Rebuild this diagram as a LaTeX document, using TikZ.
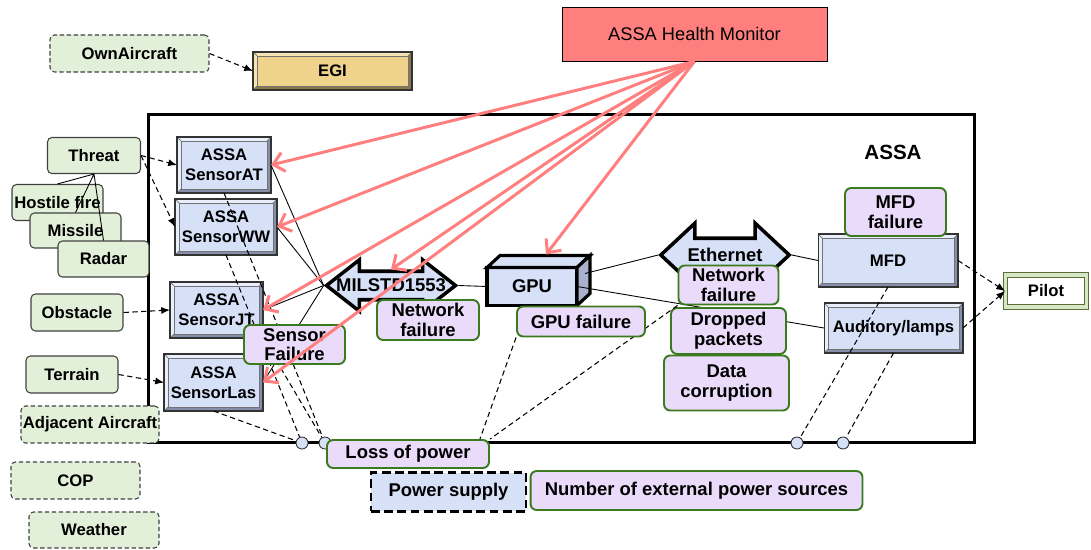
\documentclass[tikz,border=0pt]{standalone}
\usepackage{fontspec}
\setmainfont{Liberation Sans}
\usetikzlibrary{arrows.meta,shapes.arrows,calc}

\definecolor{envgreen}{HTML}{E2EFD9}
\definecolor{failpink}{HTML}{EBDBFA}
\definecolor{failedge}{HTML}{3B7A1E}
\definecolor{boxblue}{HTML}{D6E1F8}
\definecolor{bevlight}{HTML}{E9EEFB}
\definecolor{bevdark}{HTML}{858EAA}
\definecolor{boxside}{HTML}{A8B2CE}
\definecolor{egitan}{HTML}{EFD38D}
\definecolor{egilight}{HTML}{F6E3B2}
\definecolor{egidark}{HTML}{8C7746}
\definecolor{hmred}{HTML}{FF7F7F}
\definecolor{pilotedge}{HTML}{5B6B3C}
\definecolor{pilotband}{HTML}{D7E8C4}

\tikzset{
  envbox/.style={draw=black!75, fill=envgreen, rounded corners=2.5pt, line width=0.6pt,
    font=\fontsize{9.5}{11}\selectfont\bfseries, inner sep=0pt},
  envdash/.style={envbox, dash pattern=on 2.5pt off 1.5pt},
  failbox/.style={draw=failedge, fill=failpink, rounded corners=3.5pt, line width=1.1pt,
    font=\fontsize{10.5}{11.2}\selectfont\bfseries, align=center, inner sep=0pt},
  bevel/.style n args={3}{draw=black!80, line width=0.6pt, fill=#3, outer sep=0pt, inner sep=0pt,
    align=center, font=\fontsize{9.5}{11.4}\selectfont\bfseries,
    path picture={
      \path (path picture bounding box.south west) coordinate (bvA)
            (path picture bounding box.north east) coordinate (bvB);
      \fill[#2] (bvA) -- (bvA|-bvB) -- (bvB) -- ($(bvB)+(-4,4)$)
        -- ($(bvA|-bvB)+(4,4)$) -- ($(bvA)+(4,-4)$) -- cycle;
      \filldraw[fill=#1, draw=black!55, line width=0.4pt]
        ($(bvA)+(4,-4)$) rectangle ($(bvB)+(-4,4)$);
      \draw[black!55, line width=0.4pt] (bvA) -- ++(4,-4) (bvB) -- ++(-4,4)
        (bvA|-bvB) -- ++(4,4) (bvB|-bvA) -- ++(-4,-4);
    }},
  sensorbox/.style={bevel={boxblue}{bevlight}{bevdark}},
  netshape/.style={double arrow, draw=black, line width=2pt, fill=boxblue, inner sep=0pt,
    minimum width=1pt, minimum height=1pt, text width=1.78cm},
  netlabel/.style={font=\fontsize{10.5}{12}\selectfont\bfseries},
  junction/.style={circle, draw=black!80, fill=boxblue, line width=0.5pt,
    minimum size=0.24cm, inner sep=0pt},
  link/.style={black, line width=0.5pt},
  dlink/.style={black, line width=0.6pt, dash pattern=on 3pt off 2pt},
  dflow/.style={dlink, -{Latex[length=5pt,width=4pt]}},
  monitor/.style={hmred, line width=1.7pt, -{Straight Barb[length=6pt,width=11pt]}}
}

\begin{document}
\begin{tikzpicture}[x=0.02cm, y=-0.02cm]
\useasboundingbox (0,0) rectangle (1091,550);

\node[draw=black, line width=1.7pt, minimum width=16.54cm, minimum height=6.58cm, inner sep=0pt] (assa) at (561.5,278.5) {};
\node[font=\fontsize{11.7}{13}\selectfont\bfseries] (assalabel) at (893,152) {ASSA};

\node[draw=black, line width=0.5pt, fill=hmred, minimum width=5.3cm, minimum height=1.08cm,
  font=\fontsize{10.4}{12}\selectfont] (hm) at (694.5,34) {ASSA Health Monitor};
\node[envdash, minimum width=3.18cm, minimum height=0.74cm] (own) at (129.5,53.5) {OwnAircraft};
\node[bevel={egitan}{egilight}{egidark}, minimum width=3.18cm, minimum height=0.76cm] (egi) at (332.5,71) {EGI};

\node[envbox, minimum width=1.86cm, minimum height=0.72cm] (threat) at (94,155.5) {Threat};
\node[envbox, minimum width=1.82cm, minimum height=0.72cm] (hostile) at (57.5,202.5) {Hostile fire};
\node[envbox, minimum width=1.82cm, minimum height=0.70cm] (missile) at (75.5,230.5) {Missile};
\node[envbox, minimum width=1.82cm, minimum height=0.72cm] (radar) at (103.5,259) {Radar};
\node[envbox, minimum width=1.84cm, minimum height=0.74cm] (obstacle) at (77,312.5) {Obstacle};
\node[envbox, minimum width=1.84cm, minimum height=0.74cm] (terrain) at (72,374.5) {Terrain};
\node[envdash, minimum width=2.76cm, minimum height=0.74cm] (adjacent) at (90,424.5) {Adjacent Aircraft};
\node[envdash, minimum width=2.58cm, minimum height=0.74cm] (cop) at (75.5,480.5) {COP};
\node[envdash, minimum width=2.60cm, minimum height=0.72cm] (weather) at (94,530) {Weather};

\node[sensorbox, minimum width=1.88cm, minimum height=1.12cm] (sat) at (224,165) {ASSA\\SensorAT};
\node[sensorbox, minimum width=2.04cm, minimum height=1.12cm] (sww) at (226,227) {ASSA\\SensorWW};
\node[sensorbox, minimum width=1.86cm, minimum height=1.12cm] (sjt) at (216.5,310) {ASSA\\SensorJT};
\node[sensorbox, minimum width=1.98cm, minimum height=1.14cm] (slas) at (213.5,382.5) {ASSA\\SensorLas};

\node[netshape, text height=0.25cm, text depth=0.25cm, double arrow head extend=0.23cm,
  double arrow tip angle=76, label={[netlabel]center:MILSTD1553}] (mil) at (391,285.5) {};
\node[netshape, text height=0.3cm, text depth=0.3cm, double arrow head extend=0.3cm,
  double arrow tip angle=86, label={[netlabel]center:Ethernet}] (eth) at (725,255) {};

\node[draw=black, line width=1.8pt, fill=boxblue, outer sep=0pt, minimum width=1.8cm, minimum height=0.76cm,
  font=\fontsize{10.5}{12}\selectfont\bfseries] (gpu) at (532,286.5) {GPU};
\draw[black, line width=1.8pt, fill=boxblue] (gpu.north west) -- ++(13,-12) -- ++(90,0) -- (gpu.north east) -- cycle;
\draw[black, line width=1.8pt, fill=boxside] (gpu.north east) -- ++(13,-12) -- ++(0,38) -- (gpu.south east) -- cycle;
\coordinate (gpuside) at ($(gpu.east)+(8,-13)$);
\coordinate (gputop) at ($(gpu.north)+(14,-13)$);

\node[sensorbox, minimum width=2.8cm, minimum height=1.06cm] (mfd) at (888,260.5) {MFD};
\node[sensorbox, minimum width=2.78cm, minimum height=1.0cm] (aud) at (893.5,328) {Auditory/lamps};
\node[draw=pilotedge, double=pilotband, double distance=2.2pt, line width=0.5pt, minimum width=1.62cm,
  minimum height=0.64cm, font=\fontsize{9.5}{11}\selectfont\bfseries] (pilot) at (1046,291) {Pilot};

\node[draw=black, fill=boxblue, line width=1.6pt, dash pattern=on 5pt off 2.5pt, minimum width=3.1cm,
  minimum height=0.78cm, font=\fontsize{10.5}{12}\selectfont\bfseries] (psup) at (448.5,492) {Power supply};

\draw[link] (threat.south) -- (hostile.north) (threat.south) -- (missile.north) (threat.south) -- (radar.north);
\draw[dflow] (own.east) -- (egi.west);
\draw[dflow] (threat.east) -- (sat.west);
\draw[dflow] (threat.east) -- (sww.west);
\draw[dflow] (obstacle.east) -- (sjt.west);
\draw[dflow] (terrain.east) -- (slas.west);
\draw[dflow] (mfd.east) -- (pilot.west);
\draw[dflow] (aud.east) -- (pilot.west);

\draw[link] (sat.east) -- (mil.180);
\draw[link] (sww.east) -- (mil.180);
\draw[link] (sjt.east) -- (mil.180);
\draw[link] (slas.east) -- (mil.180);
\draw[link] (mil.0) -- (gpu.west);
\draw[link] (gpuside) -- (eth.180);
\draw[link] (gpu.east) -- (aud.west);
\draw[link] (eth.0) -- (mfd.west);

\node[junction] (j1) at (302,443) {};
\node[junction] (j2) at (325,443) {};
\node[junction] (j3) at (797,443) {};
\node[junction] (j4) at (843,443) {};
\node[failbox, minimum width=3.24cm, minimum height=0.56cm] (lossp) at (408,454) {Loss of power};

\draw[dlink] (sat.south) -- (j2);
\draw[dlink] (sww.south) -- (j1);
\draw[dlink] (sjt.south east) -- (j2);
\draw[dlink] (slas.south) -- (j1);
\draw[dlink] (mfd.south) -- (j3);
\draw[dlink] (aud.south) -- (j4);

\node[failbox, minimum width=2.04cm, minimum height=0.8cm] (netmil) at (428,320) {Network\\failure};
\node[failbox, minimum width=2.02cm, minimum height=0.78cm] (sensf) at (294.5,344.5) {Sensor\\Failure};
\node[failbox, minimum width=2.0cm, minimum height=0.78cm] (neteth) at (728.5,285) {Network\\failure};
\node[failbox, minimum width=2.3cm, minimum height=0.92cm] (dropped) at (728.5,331) {Dropped\\packets};
\node[failbox, minimum width=2.5cm, minimum height=1.1cm] (datac) at (726.5,383) {Data\\corruption};
\node[failbox, minimum width=2.02cm, minimum height=0.96cm] (mfdf) at (895.5,212) {MFD\\failure};
\node[failbox, minimum width=6.64cm, minimum height=0.78cm] (nums) at (696.5,490.5) {Number of external power sources};

\draw[dlink] (neteth.south west) -- (lossp.north east);
\node[failbox, minimum width=2.56cm, minimum height=0.6cm] (gpuf) at (581,321.5) {GPU failure};
\draw[dlink] (gpuf.south west) -- ([xshift=-0.2cm]lossp.north east);

\draw[monitor] (hm.south) -- (sat.east);
\draw[monitor] (hm.south) -- (sww.east);
\draw[monitor] (hm.south) -- (sjt.east);
\draw[monitor] (hm.south) -- (slas.east);
\draw[monitor] (hm.south) -- (mil.90);
\draw[monitor] (hm.south) -- (gputop);
\end{tikzpicture}
\end{document}
